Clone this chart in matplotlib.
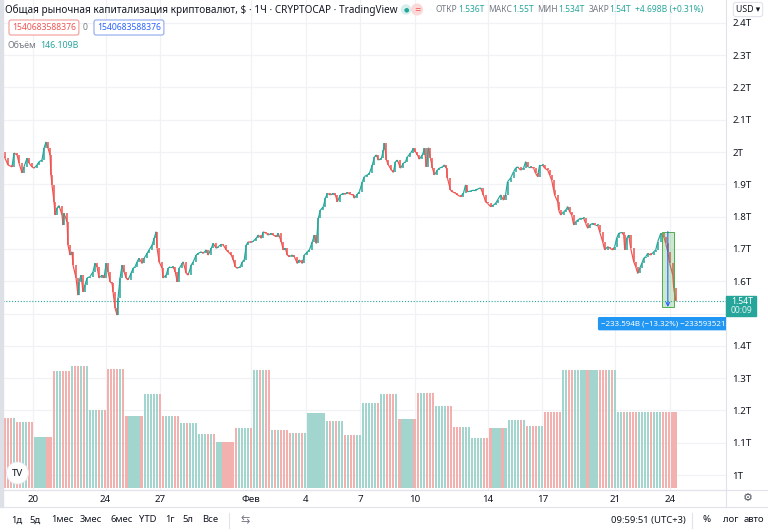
import matplotlib
matplotlib.use("Agg")
import matplotlib.pyplot as plt
import matplotlib.transforms as mtransforms
from matplotlib.patches import Rectangle, FancyArrowPatch
from matplotlib.lines import Line2D
from matplotlib.collections import LineCollection
import numpy as np

plt.rcParams['font.family'] = ['Noto Sans', 'DejaVu Sans']

# ---------------- data ----------------
# hours since 18 Jan 00:00 (UTC+3) of each sampled candle
times = [7.0, 11.3, 15.3, 20.6, 23.2, 27.2, 29.8, 33.8, 36.4, 40.4, 43.0, 46.9, 49.6, 53.5, 56.2, 60.1,
         62.8, 65.4, 68.0, 70.7, 72.0, 73.3, 76.0, 77.3, 79.9, 82.6, 86.5, 87.8, 89.1, 93.1, 94.4, 97.1,
         99.7, 101.0, 105.0, 107.6, 108.9, 111.6, 114.2, 116.8, 119.5, 123.4, 127.4, 130.0, 132.7, 135.3,
         139.3, 142.0, 144.6, 147.2, 149.9, 152.5, 153.8, 156.5, 159.1, 160.4, 163.1, 165.7, 168.4, 171.0,
         173.6, 177.6, 180.3, 182.9, 185.5, 188.2, 192.1, 194.8, 198.7, 201.4, 205.3, 208.0, 210.6, 211.9,
         214.6, 218.5, 219.8, 223.8, 226.5, 229.1,
         233.1, 235.8, 238.4, 241.1, 245.0, 246.3, 250.3, 252.9, 256.9, 259.5, 263.5, 266.1, 270.1, 272.7,
         276.7, 279.3, 283.3, 285.9, 289.9, 292.5, 296.5, 299.1, 303.1, 305.7, 309.7, 312.3, 315.0, 317.6,
         321.6, 324.2, 326.8, 329.5, 332.1, 336.1, 338.7, 342.7, 345.3, 349.3, 351.9, 355.9, 358.5, 362.5,
         365.1, 369.1, 371.7, 375.7, 378.3, 381.0, 383.6, 386.3, 390.2, 392.9, 396.8, 399.5, 403.4, 406.1,
         410.0, 412.7, 416.6, 419.3, 421.9, 424.5, 427.2, 431.1, 433.8, 436.4, 440.4, 444.3, 447.0, 449.6,
         453.6,
         457.5, 460.2, 462.8, 466.8, 470.7, 472.0, 476.0, 478.6, 482.6, 485.2, 489.2, 491.8, 495.8, 498.4,
         501.1, 503.7, 507.7, 510.3, 511.6, 514.3, 516.9, 520.9, 523.5, 526.2, 528.8, 532.8, 536.7, 539.4,
         542.0, 546.0, 549.9, 552.6, 555.2, 557.8, 561.8, 564.4, 567.1, 569.7, 572.4, 575.0, 577.6, 581.6,
         584.2, 588.2, 590.8, 593.5, 594.8, 598.8, 601.4, 605.4, 608.0, 612.0, 615.9, 618.6, 621.2, 625.2,
         629.1, 631.8, 634.4, 638.4, 642.3, 645.0, 647.6, 651.6, 655.5, 658.2, 660.8, 664.8, 668.7, 671.4,
         674.0, 678.0,
         682.0, 684.6, 687.3, 691.2, 695.2, 697.8, 700.5, 704.4, 708.4, 711.0, 713.7, 716.3, 720.3, 722.9,
         726.9, 729.5, 732.2, 734.8, 736.1, 740.1, 741.4, 744.1, 748.0, 750.7, 753.3, 755.9, 758.6, 761.2,
         763.8, 766.5, 770.4, 774.4, 777.0, 779.7, 782.3, 786.3, 788.9, 792.9, 795.5, 799.5, 802.1, 806.1,
         808.7, 812.7, 815.3, 817.9, 820.6, 824.5, 827.2, 828.5, 831.2, 833.8, 836.4, 840.4, 843.0, 845.7,
         848.3, 851.0, 853.6, 856.2, 858.9, 862.8, 866.8, 869.4, 872.1, 876.0, 880.0, 882.6, 885.3, 887.9,
         891.9, 893.2, 895.8]

# close of each sampled candle, trillion USD
closes = [2.001, 1.981, 1.960, 1.954, 1.997, 1.991, 1.966, 1.935, 1.954, 1.981, 1.966, 1.954, 1.950, 1.960,
          1.970, 1.975, 2.012, 2.031, 2.012, 1.991, 1.929, 1.898, 1.846, 1.805, 1.827, 1.834, 1.805, 1.774,
          1.811, 1.784, 1.712, 1.681, 1.691, 1.650, 1.610, 1.557, 1.598, 1.619, 1.567, 1.588, 1.610, 1.614,
          1.629, 1.655, 1.645, 1.610, 1.619, 1.610, 1.655, 1.629, 1.598, 1.593, 1.567, 1.517, 1.495, 1.547,
          1.610, 1.650, 1.629, 1.610, 1.604, 1.625, 1.640, 1.645, 1.660, 1.671, 1.655, 1.671, 1.686, 1.697,
          1.712, 1.733, 1.753, 1.702, 1.660, 1.640, 1.610, 1.619, 1.640, 1.645,
          1.645, 1.629, 1.598, 1.640, 1.655, 1.660, 1.624, 1.619, 1.650, 1.660, 1.681, 1.686, 1.691, 1.686,
          1.697, 1.681, 1.702, 1.717, 1.702, 1.707, 1.714, 1.712, 1.697, 1.691, 1.681, 1.666, 1.645, 1.640,
          1.645, 1.660, 1.666, 1.712, 1.722, 1.720, 1.724, 1.733, 1.743, 1.733, 1.753, 1.748, 1.743, 1.748,
          1.743, 1.738, 1.748, 1.722, 1.697, 1.702, 1.681, 1.676, 1.681, 1.676, 1.655, 1.666, 1.655, 1.681,
          1.691, 1.697, 1.722, 1.743, 1.717, 1.795, 1.820, 1.831, 1.857, 1.872, 1.867, 1.872, 1.867, 1.846,
          1.867,
          1.872, 1.869, 1.875, 1.869, 1.867, 1.857, 1.869, 1.877, 1.908, 1.924, 1.929, 1.934, 1.960, 1.985,
          1.991, 1.975, 1.980, 2.006, 2.027, 1.975, 1.960, 1.944, 1.937, 1.970, 1.975, 1.950, 1.965, 1.970,
          1.985, 1.996, 2.011, 2.001, 1.991, 1.978, 1.991, 2.011, 1.954, 2.013, 1.980, 1.950, 1.929, 1.944,
          1.950, 1.954, 1.960, 1.950, 1.919, 1.882, 1.877, 1.872, 1.867, 1.862, 1.872, 1.898, 1.877, 1.879,
          1.882, 1.882, 1.885, 1.889, 1.867, 1.846, 1.841, 1.831, 1.836, 1.841, 1.851, 1.867, 1.851, 1.867,
          1.908, 1.919,
          1.939, 1.950, 1.954, 1.944, 1.950, 1.970, 1.954, 1.954, 1.950, 1.934, 1.924, 1.960, 1.960, 1.950,
          1.944, 1.929, 1.913, 1.882, 1.867, 1.846, 1.820, 1.805, 1.815, 1.820, 1.831, 1.815, 1.805, 1.774,
          1.784, 1.789, 1.795, 1.795, 1.779, 1.764, 1.774, 1.779, 1.774, 1.774, 1.753, 1.722, 1.697, 1.707,
          1.702, 1.697, 1.707, 1.733, 1.748, 1.751, 1.743, 1.697, 1.733, 1.743, 1.702, 1.660, 1.645, 1.624,
          1.640, 1.655, 1.671, 1.676, 1.686, 1.681, 1.691, 1.697, 1.722, 1.748, 1.738, 1.717, 1.691, 1.655,
          1.619, 1.578, 1.540]

# daily volume (billion USD), 18 Jan .. 24 Feb
volumes = [134, 127, 99, 224, 234, 149, 229, 138, 180, 138, 124, 103, 89, 115,
           227, 111, 106, 145, 129, 102, 164, 180, 132, 182, 158, 117, 97, 116, 131, 120,
           146, 227, 227, 227, 146.1, 146.1, 146.1, 146.1]

tick_hours = [48, 144, 216, 336, 408, 480, 552, 648, 720, 816, 888]
tick_labels = ['20', '24', '27', 'Фев', '4', '7', '10', '14', '17', '21', '24']
price_levels = [1.0, 1.1, 1.2, 1.3, 1.4, 1.5, 1.6, 1.7, 1.8, 1.9, 2.0, 2.1, 2.2, 2.3, 2.4]
price_labels = ['1T', '1.1T', '1.2T', '1.3T', '1.4T', '', '1.6T', '1.7T', '1.8T', '1.9T',
                '2T', '2.1T', '2.2T', '2.3T', '2.4T']

last_price = 1.54
measure_hours = [877.3, 893.5]
measure_prices = [1.7537, 1.5201]
measure_text = '−233.594B (−13.32%) −23359352128'

ohlc_parts = [('ОТКР', '1.536T'), ('МАКС', '1.55T'), ('МИН', '1.534T'), ('ЗАКР', '1.54T')]
change_text = '+4.698B (+0.31%)'
volume_now = '146.109B'
title = 'Общая рыночная капитализация криптовалют, $ · 1Ч · CRYPTOCAP · TradingView'
box_value = '1540683588376'

range_buttons = ['1д', '5д', '1мес', '3мес', '6мес', 'YTD', '1г', '5л', 'Все']

# ---------------- styling ----------------
UP, DN = '#26a69a', '#ef5350'
VUP, VDN = '#a3d5cf', '#f2b1af'
TXT, GRAY, TEAL = '#131722', '#787b86', '#26a69a'
GRID = '#f0f2f6'
BORDER = '#e0e3eb'

W, H = 768, 532
fig = plt.figure(figsize=(W / 100, H / 100), dpi=100)
fig.patch.set_facecolor('white')


def fx(x):
    return x / W


def fy(y):
    return 1 - y / H


PANE_R, PANE_B = 726, 490
rect = [0, fy(PANE_B), PANE_R / W, PANE_B / H]
ax = fig.add_axes(rect, zorder=2)
axv = fig.add_axes(rect, zorder=0)
axv.axis('off')

xlim = (4.75, 962.1)
ax.set_xlim(*xlim)
axv.set_xlim(*xlim)
ax.set_ylim(0.9536, 2.4706)
axv.set_ylim(-3.84, 938.1)

# grid
for h in tick_hours:
    ax.axvline(h, color=GRID, lw=0.9, zorder=0.5)
for p in price_levels:
    ax.axhline(p, color=GRID, lw=0.9, zorder=0.5)

tt = np.array(times)
c = np.array(closes)
o = np.r_[c[0], c[:-1]]
up = c >= o

# volume bars: one bar per 4-hour slot, daily value, coloured like the candle in that slot
slot = np.arange(6.0, tt[-1] + 1, 4.0)
idx = np.clip(np.searchsorted(tt, slot), 0, len(tt) - 1)
vol = np.array(volumes)[(slot // 24).astype(int)]
vtrans = mtransforms.blended_transform_factory(ax.transData, axv.transData)
ax.bar(slot, vol, width=2.9, align='edge', bottom=0, color=np.where(up[idx], VUP, VDN), linewidth=0,
       transform=vtrans, zorder=1)

# candles: path between consecutive closes plus bodies
segs = np.stack([np.c_[tt[:-1], c[:-1]], np.c_[tt[1:], c[1:]]], axis=1)
ax.add_collection(LineCollection(segs, colors=np.where(up[1:], UP, DN), linewidths=0.85, zorder=3))
lo = np.minimum(o, c)
hi = np.maximum(o, c)
hi = np.where(hi - lo < 0.003, lo + 0.003, hi)
ax.vlines(tt, lo, hi, colors=np.where(up, UP, DN), linewidth=1.1, zorder=3)

# last price line
ax.axhline(last_price, color=TEAL, lw=0.8, ls=(0, (1, 1.6)), zorder=2)

# measure tool
ax.add_patch(Rectangle((measure_hours[0], measure_prices[1]), measure_hours[1] - measure_hours[0],
                       measure_prices[0] - measure_prices[1], facecolor='#4caf50', alpha=0.28,
                       edgecolor='none', zorder=4))
ax.add_patch(Rectangle((measure_hours[0], measure_prices[1]), measure_hours[1] - measure_hours[0],
                       measure_prices[0] - measure_prices[1], facecolor='none',
                       edgecolor='#4caf50', lw=0.7, zorder=4))
mid = (measure_hours[0] + measure_hours[1]) / 2
ax.add_patch(FancyArrowPatch((mid, measure_prices[0]), (mid, measure_prices[1]),
                             arrowstyle='->', mutation_scale=6, color='#2962ff', lw=0.8,
                             shrinkA=0, shrinkB=0, zorder=5))
ann = ax.annotate(measure_text, xy=(mid, measure_prices[1]), xytext=(0, -12),
                  textcoords='offset points', ha='center', va='center', fontsize=5.7,
                  color='white', zorder=6,
                  bbox=dict(boxstyle='round,pad=0.4,rounding_size=0.2', fc='#2196f3', ec='none'))
ann.set_clip_on(True)
ann.set_clip_box(ax.bbox)

# axes styling
for s in ['top', 'left']:
    ax.spines[s].set_visible(False)
ax.spines['right'].set_color(BORDER)
ax.spines['bottom'].set_color(BORDER)
ax.patch.set_visible(False)
ax.yaxis.tick_right()
ax.set_yticks(price_levels)
ax.set_yticklabels(price_labels)
ax.tick_params(axis='y', length=0, pad=4.5, labelsize=7.0, labelcolor=TXT)
ax.set_xticks(tick_hours)
ax.set_xticklabels(tick_labels)
ax.tick_params(axis='x', length=0, pad=3.5, labelsize=7.0, labelcolor=TXT)
for lab in ax.get_xticklabels():
    if lab.get_text() == 'Фев':
        lab.set_fontweight('bold')

# left browser edge
fig.patches.append(Rectangle((0, fy(507)), fx(2.5), 507 / H, transform=fig.transFigure,
                             color='#dde0e7', zorder=5))
# separators
fig.add_artist(Line2D([0, 1], [fy(490), fy(490)], color=BORDER, lw=0.8, zorder=5))
fig.add_artist(Line2D([0, 1], [fy(507), fy(507)], color=BORDER, lw=0.8, zorder=5))
fig.add_artist(Line2D([fx(726), fx(726)], [fy(507), fy(490)], color=BORDER, lw=0.8, zorder=5))
fig.add_artist(Line2D([fx(229), fx(229)], [fy(513), fy(528)], color=BORDER, lw=0.8, zorder=5))
fig.add_artist(Line2D([fx(692), fx(692)], [fy(513), fy(528)], color=BORDER, lw=0.8, zorder=5))

# price label on axis
fig.patches.append(Rectangle((fx(726), fy(315.5)), 30 / W, 19.5 / H, transform=fig.transFigure,
                             color=UP, zorder=10))
fig.text(fx(731), fy(301.5), '1.54T', fontsize=6.2, color='white', va='center', ha='left', zorder=11)
fig.text(fx(731), fy(310.5), '00:09', fontsize=6.2, color='#e0f2f1', va='center', ha='left', zorder=11)

# USD box
fig.text(fx(748), fy(9.5), 'USD ▾', fontsize=6.3, color=TXT, ha='center', va='center',
         bbox=dict(boxstyle='round,pad=0.3,rounding_size=0.3', fc='white', ec=BORDER, lw=0.8))

# gear
fig.text(fx(748), fy(498), '⚙', fontsize=8, color='#50535e', ha='center', va='center',
         family='DejaVu Sans')

# ---------------- legend ----------------
renderer = fig.canvas.get_renderer()


def seq(x, y, parts, size):
    for s, col, gap in parts:
        t = fig.text(fx(x), fy(y), s, color=col, fontsize=size, va='center', ha='left')
        x += t.get_window_extent(renderer=renderer).width + gap
    return x


fig.text(fx(5), fy(10), title, fontsize=7.2, color=TXT, va='center', ha='left')
fig.text(fx(406), fy(9.5), '●', fontsize=4.5, color=UP, ha='center', va='center', family='DejaVu Sans',
         bbox=dict(boxstyle='circle,pad=0.4', fc='#d6efec', ec='none'))
fig.text(fx(417), fy(9.5), '=', fontsize=5.5, color=DN, ha='center', va='center', family='DejaVu Sans',
         bbox=dict(boxstyle='circle,pad=0.2', fc='#fbd9d8', ec='none'))
parts = []
for lab, val in ohlc_parts:
    parts.append((lab, GRAY, 0.5))
    parts.append((val, TEAL, 3.5))
parts.append((change_text, TEAL, 0))
seq(436, 9.5, parts, 6.1)

fig.text(fx(12), fy(27.5), box_value, fontsize=6.2, color=DN, va='center', ha='left',
         bbox=dict(boxstyle='round,pad=0.35,rounding_size=0.25', fc='white', ec='#f19b99', lw=0.8))
fig.text(fx(85), fy(27.5), '0', fontsize=6.2, color=GRAY, va='center', ha='center')
fig.text(fx(97), fy(27.5), box_value, fontsize=6.2, color='#2962ff', va='center', ha='left',
         bbox=dict(boxstyle='round,pad=0.35,rounding_size=0.25', fc='white', ec='#8fa8f0', lw=0.8))
seq(7, 45.5, [('Объём', GRAY, 4), (volume_now, TEAL, 0)], 6.3)

# TV logo
fig.text(fx(17.5), fy(473), 'TV', fontsize=7, fontweight='bold', color=TXT, ha='center', va='center',
         bbox=dict(boxstyle='circle,pad=0.55', fc='white', ec='#e6e8ee', lw=0.6), zorder=12)

# bottom toolbar
btn_x = [17, 35, 62, 91, 122, 148, 170, 188, 210]
for bx, b in zip(btn_x, range_buttons):
    fig.text(fx(bx), fy(520), b, fontsize=6.8, color=TXT, ha='center', va='center')
fig.text(fx(245), fy(520), '⇆', fontsize=8, color=GRAY, ha='center', va='center', family='DejaVu Sans')
fig.text(fx(648), fy(520), '09:59:51 (UTC+3)', fontsize=6.8, color=TXT, ha='center', va='center')
fig.text(fx(707), fy(520), '%', fontsize=7.0, color=TXT, ha='center', va='center')
fig.text(fx(731), fy(520), 'лог', fontsize=6.8, color=TXT, ha='center', va='center')
fig.text(fx(754), fy(520), 'авто', fontsize=6.8, color=TXT, ha='center', va='center')

assert len(times) == len(closes), (len(times), len(closes))
fig.savefig('out.png', dpi=100)
